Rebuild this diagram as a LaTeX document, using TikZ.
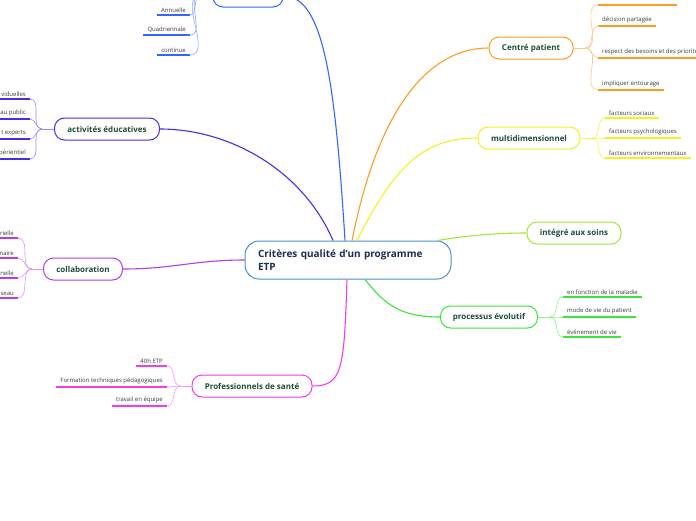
\documentclass[tikz,border=0pt]{standalone}
\usepackage{fontspec}
\setmainfont{Open Sans}
\usepackage{tikz}
\definecolor{rootLine}{HTML}{4A90D0}
\definecolor{rootText}{HTML}{1A2B55}
\definecolor{topicText}{HTML}{1E4D3B}
\definecolor{leafText}{HTML}{3A3A3A}
\definecolor{cBlue}{HTML}{3366FF}
\definecolor{cViolet}{HTML}{4B2BEA}
\definecolor{cPurple}{HTML}{B03CF0}
\definecolor{cMagenta}{HTML}{F53CE6}
\definecolor{cOrange}{HTML}{FF9A22}
\definecolor{cYellow}{HTML}{F2F21E}
\definecolor{cLime}{HTML}{9BE83A}
\definecolor{cGreen}{HTML}{3BE63B}

\begin{document}
\begin{tikzpicture}[x=1pt, y=-1pt,
  topic/.style={draw, rounded corners=10pt, line width=1pt, fill=white,
    minimum height=22pt, text=topicText, font=\bfseries\fontsize{8}{9}\selectfont},
  leaf/.style={font=\fontsize{6}{7}\selectfont, text=leafText, inner xsep=4pt, inner ysep=2.5pt},
  under/.style={line width=1.8pt},
  fan/.style={line width=0.6pt},
  link/.style={line width=1.1pt},
]
  \useasboundingbox (0,0) rectangle (696,520);
  \clip (0,0) rectangle (696,520);

  % central topic
  \node[draw=rootLine, line width=1pt, rounded corners=14pt, fill=white,
    minimum width=206pt, minimum height=38pt, text width=180pt, align=left,
    font=\bfseries\fontsize{10}{13}\selectfont, text=rootText] (root) at (348,260)
    {Critères qualité d'un programme\\ETP};

  % main topics
  \node[topic, draw=cBlue, minimum width=70pt] (top) at (248,-4) {};
  \node[topic, draw=cViolet, minimum width=105pt] (act) at (107,129) {activités éducatives};
  \node[topic, draw=cPurple, minimum width=79pt] (col) at (83,269) {collaboration};
  \node[topic, draw=cMagenta, minimum width=120pt] (pro) at (252,386) {Professionnels de santé};
  \node[topic, draw=cOrange, minimum width=84pt] (cp) at (531,48) {Centré patient};
  \node[topic, draw=cYellow, minimum width=102pt] (md) at (529,138) {multidimensionnel};
  \node[topic, draw=cLime, minimum width=94pt] (ints) at (574,233) {intégré aux soins};
  \node[topic, draw=cGreen, minimum width=97pt] (pe) at (489,317) {processus évolutif};

  % links from the centre
  \draw[link, cBlue] ([xshift=-3pt]root.north) .. controls +(-10,-160) and +(40,0) .. (top.east);
  \draw[link, cViolet] ([xshift=-15pt]root.north) .. controls +(-30,-70) and +(70,0) .. (act.east);
  \draw[link, cPurple] (root.west) .. controls +(-50,0) and +(50,0) .. (col.east);
  \draw[link, cMagenta] ([xshift=-1pt]root.south) .. controls +(-3,90) and +(30,0) .. (pro.east);
  \draw[link, cOrange] ([xshift=4pt]root.north) .. controls +(30,-150) and +(-50,0) .. (cp.west);
  \draw[link, cYellow] ([xshift=9pt]root.north) .. controls +(40,-80) and +(-50,0) .. (md.west);
  \draw[link, cLime] ([xshift=-14pt]root.north east) .. controls +(30,-5) and +(-30,0) .. (ints.west);
  \draw[link, cGreen] ([xshift=17pt]root.south) .. controls +(20,25) and +(-40,0) .. (pe.west);

  \coordinate (edgeL) at (-5,0);

  % top (blue) leaves
  \node[leaf, anchor=south east] (top1) at (190,15) {Annuelle};
  \node[leaf, anchor=south east] (top2) at (190,35) {Quadriennale};
  \node[leaf, anchor=south east] (top3) at (190,55) {continue};
  \coordinate (topHub) at ([xshift=-12pt]top.west);
  \draw[fan, cBlue!55] (top.west) -- (topHub);
  \foreach \l in {top1,top2,top3} {
    \draw[under, cBlue] (\l.south west) -- (\l.south east);
    \draw[fan, cBlue!55] (topHub) to[out=180,in=0] (\l.south east);
  }

  % activités éducatives leaves
  \node[leaf, anchor=south east] (act1) at (30,99) {viduelles};
  \node[leaf, anchor=south east] (act2) at (30,119) {au public};
  \node[leaf, anchor=south east] (act3) at (30,139) {t experts};
  \node[leaf, anchor=south east] (act4) at (30,159) {périentiel};
  \coordinate (actHub) at ([xshift=-12pt]act.west);
  \draw[fan, cViolet!55] (act.west) -- (actHub);
  \foreach \l in {act1,act2,act3,act4} {
    \draw[under, cViolet] (\l.south east) -- (\l.south east -| edgeL);
    \draw[fan, cViolet!55] (actHub) to[out=180,in=0] (\l.south east);
  }

  % collaboration leaves
  \node[leaf, anchor=south east] (col1) at (18,238) {rielle};
  \node[leaf, anchor=south east] (col2) at (18,258) {naire};
  \node[leaf, anchor=south east] (col3) at (18,278) {nelle};
  \node[leaf, anchor=south east] (col4) at (18,298) {seau};
  \coordinate (colHub) at ([xshift=-11pt]col.west);
  \draw[fan, cPurple!55] (col.west) -- (colHub);
  \foreach \l in {col1,col2,col3,col4} {
    \draw[under, cPurple] (\l.south east) -- (\l.south east -| edgeL);
    \draw[fan, cPurple!55] (colHub) to[out=180,in=0] (\l.south east);
  }

  % professionnels de santé leaves
  \node[leaf, anchor=south east] (pro1) at (167,366) {40h ETP};
  \node[leaf, anchor=south east] (pro2) at (167,387) {Formation techniques pédagogiques};
  \node[leaf, anchor=south east] (pro3) at (167,406) {travail en équipe};
  \coordinate (proHub) at ([xshift=-11pt]pro.west);
  \draw[fan, cMagenta!55] (pro.west) -- (proHub);
  \foreach \l in {pro1,pro2,pro3} {
    \draw[under, cMagenta] (\l.south west) -- (\l.south east);
    \draw[fan, cMagenta!55] (proHub) to[out=180,in=0] (\l.south east);
  }

  % centré patient leaves
  \node[leaf, anchor=south west, minimum width=79pt] (cp1) at (598,5) {};
  \node[leaf, anchor=south west] (cp2) at (598,26) {décision partagée};
  \node[leaf, anchor=south west] (cp3) at (598,58) {respect des besoins et des priorités};
  \node[leaf, anchor=south west] (cp4) at (598,90) {impliquer entourage};
  \coordinate (cpHub) at ([xshift=12pt]cp.east);
  \draw[fan, cOrange!55] (cp.east) -- (cpHub);
  \foreach \l in {cp1,cp2,cp3,cp4} {
    \draw[under, cOrange] (\l.south west) -- (\l.south east);
    \draw[fan, cOrange!55] (cpHub) to[out=0,in=180] (\l.south west);
  }

  % multidimensionnel leaves
  \node[leaf, anchor=south west] (md1) at (605,118) {facteurs sociaux};
  \node[leaf, anchor=south west] (md2) at (605,138) {facteurs psychologiques};
  \node[leaf, anchor=south west] (md3) at (605,158) {facteurs environnementaux};
  \coordinate (mdHub) at ([xshift=12pt]md.east);
  \draw[fan, cYellow!80] (md.east) -- (mdHub);
  \foreach \l in {md1,md2,md3} {
    \draw[under, cYellow] (\l.south west) -- (\l.south east);
    \draw[fan, cYellow!80] (mdHub) to[out=0,in=180] (\l.south west);
  }

  % processus évolutif leaves
  \node[leaf, anchor=south west] (pe1) at (563,297) {en fonction de la maladie};
  \node[leaf, anchor=south west] (pe2) at (563,317) {mode de vie du patient};
  \node[leaf, anchor=south west] (pe3) at (563,337) {événement de vie};
  \coordinate (peHub) at ([xshift=12pt]pe.east);
  \draw[fan, cGreen!60] (pe.east) -- (peHub);
  \foreach \l in {pe1,pe2,pe3} {
    \draw[under, cGreen] (\l.south west) -- (\l.south east);
    \draw[fan, cGreen!60] (peHub) to[out=0,in=180] (\l.south west);
  }
\end{tikzpicture}
\end{document}
